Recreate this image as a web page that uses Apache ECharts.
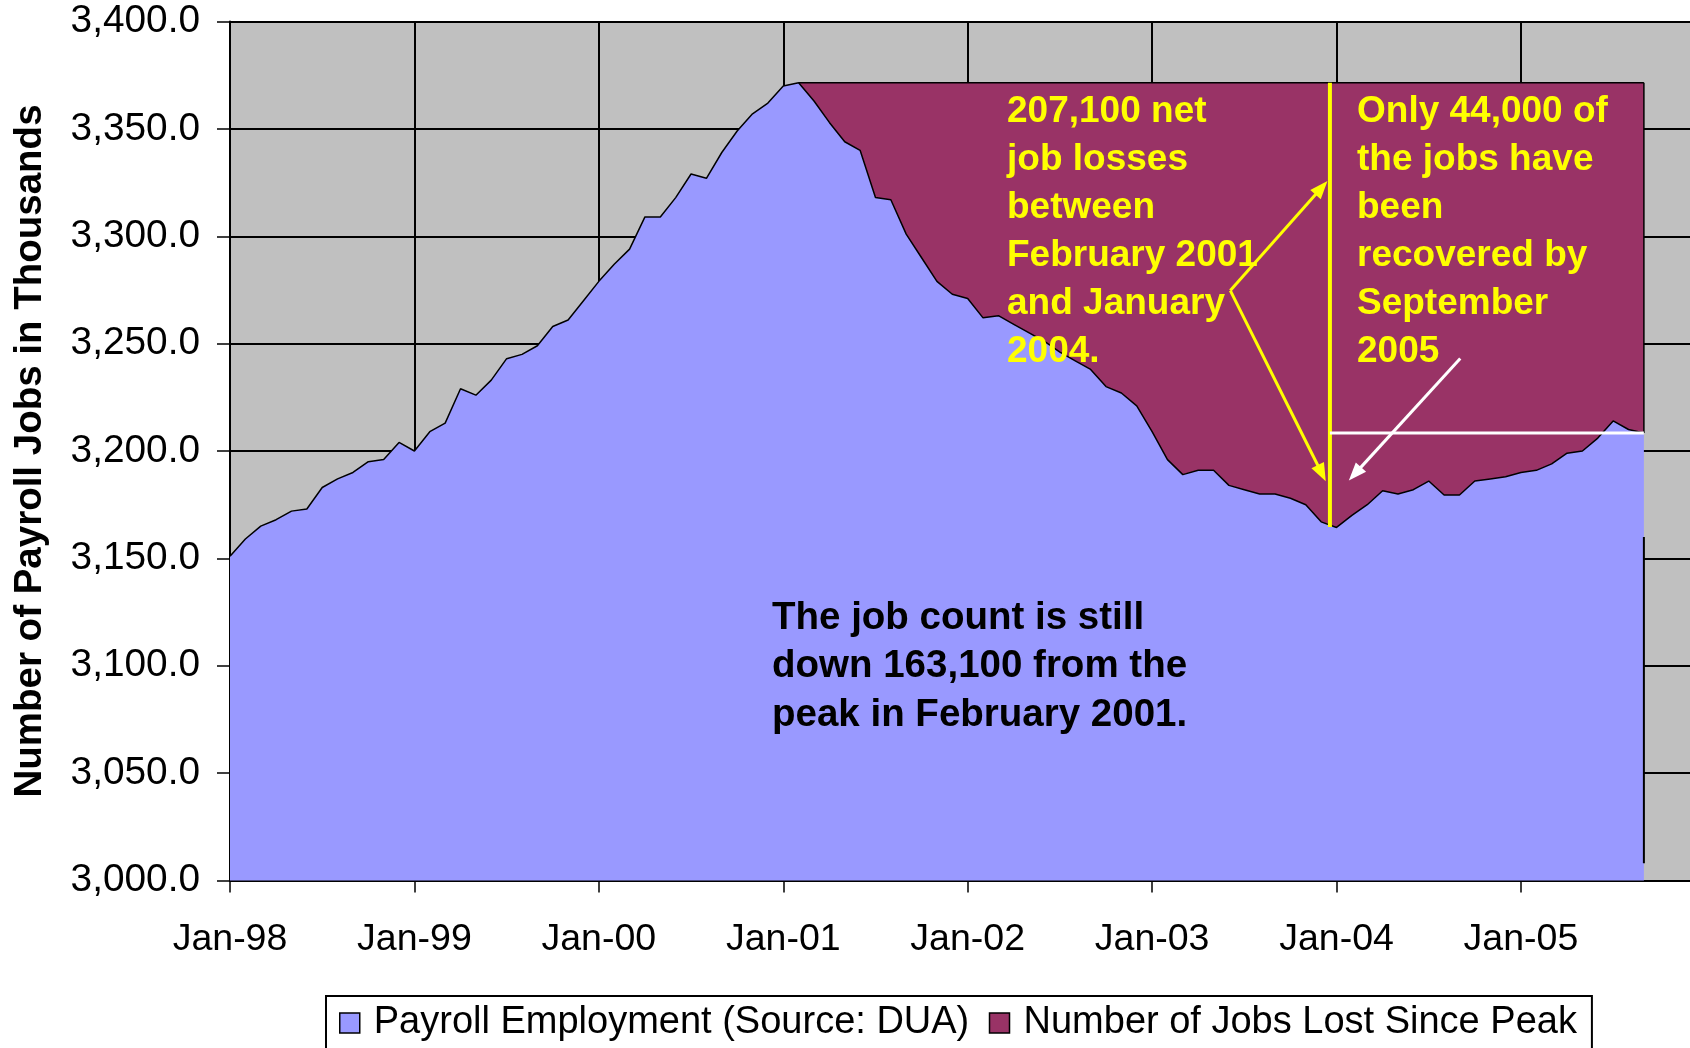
<!DOCTYPE html>
<html>
<head>
<meta charset="utf-8">
<script src="https://cdn.jsdelivr.net/npm/echarts@6/dist/echarts.min.js"></script>
<style>
html,body{margin:0;padding:0;background:#ffffff;}
#chart{width:1690px;height:1048px;}
</style>
</head>
<body>
<div id="chart"></div>
<script>
// ---------- DATA ----------
const monthNames = ['Jan','Feb','Mar','Apr','May','Jun','Jul','Aug','Sep','Oct','Nov','Dec'];
const yearSuffixes = ['98','99','00','01','02','03','04','05'];
const categories = [];
yearSuffixes.forEach(function (y) { monthNames.forEach(function (m) { categories.push(m + '-' + y); }); });

const xTickLabels = ['Jan-98','Jan-99','Jan-00','Jan-01','Jan-02','Jan-03','Jan-04','Jan-05'];

// Payroll employment, thousands, Jan-98 .. Sep-05
const payroll = [
  3151, 3159, 3165, 3168, 3172, 3173, 3183, 3187, 3190, 3195, 3196, 3204,       // 1998
  3200, 3209, 3213, 3229, 3226, 3233, 3243, 3245, 3249, 3258, 3261, 3270,       // 1999
  3279, 3287, 3294, 3309, 3309, 3318, 3329, 3327, 3339, 3349, 3357, 3362,       // 2000
  3370, 3371.5, 3363, 3353, 3344, 3340, 3318, 3317, 3301, 3290, 3279, 3273,     // 2001
  3271, 3262, 3263, 3259, 3255, 3251, 3246, 3242, 3238, 3230, 3227, 3221,       // 2002
  3209, 3196, 3189, 3191, 3191, 3184, 3182, 3180, 3180, 3178, 3175, 3167,       // 2003
  3164.4, 3170, 3175, 3181.5, 3180, 3182, 3186, 3179.5, 3179.5, 3186, 3187, 3188, // 2004
  3190, 3191, 3194, 3199, 3200, 3206, 3214, 3210, 3208.4                         // 2005
];

// Number of jobs lost since the Feb-2001 peak (thousands), Feb-01 .. Sep-05
const jobsLostValues = [
  0, 8.5, 18.5, 27.5, 31.5, 53.5, 54.5, 70.5, 81.5, 92.5, 98.5,                 // Feb-Dec 2001
  100.5, 109.5, 108.5, 112.5, 116.5, 120.5, 125.5, 129.5, 133.5, 141.5, 144.5, 150.5, // 2002
  162.5, 175.5, 182.5, 180.5, 180.5, 187.5, 189.5, 191.5, 191.5, 193.5, 196.5, 204.5, // 2003
  207.1, 201.5, 196.5, 190, 191.5, 189.5, 185.5, 192, 192, 185.5, 184.5, 183.5, // 2004
  181.5, 180.5, 177.5, 172.5, 171.5, 165.5, 157.5, 161.5, 163.1                 // 2005
];
const jobsLost = new Array(37).fill(null).concat(jobsLostValues);

const seriesNames = ['Payroll Employment (Source: DUA)', 'Number of Jobs Lost Since Peak'];
const yAxisTitle = 'Number of Payroll Jobs in Thousands';
const noteLosses = ['207,100 net', 'job losses', 'between', 'February 2001', 'and January', '2004.'];
const noteRecovered = ['Only 44,000 of', 'the jobs have', 'been', 'recovered by', 'September', '2005'];
const noteStillDown = ['The job count is still', 'down 163,100 from the', 'peak in February 2001.'];

// ---------- CHART ----------
const FONT = '"Liberation Sans", Arial, Helvetica, sans-serif';
const chart = echarts.init(document.getElementById('chart'), null, { renderer: 'canvas' });

const option = {
  animation: false,
  backgroundColor: '#ffffff',
  grid: {
    left: 230, right: 0, top: 21.5, height: 859,
    show: true, backgroundColor: '#C0C0C0', borderWidth: 0
  },
  xAxis: {
    type: 'category',
    data: categories,
    boundaryGap: false,
    axisLine: { show: true, onZero: false, lineStyle: { color: '#000', width: 2 } },
    axisTick: { show: true, interval: 11, length: 12, lineStyle: { color: '#000', width: 1.5 } },
    axisLabel: {
      interval: 11, margin: 40, color: '#000', fontSize: 37.5, fontFamily: FONT,
      formatter: function (v) { return xTickLabels.indexOf(v) >= 0 ? v : ''; }
    },
    splitLine: { show: true, interval: 11, lineStyle: { color: '#000', width: 2 } }
  },
  yAxis: {
    type: 'value', min: 3000, max: 3400, interval: 50,
    name: yAxisTitle, nameLocation: 'middle', nameRotate: 90, nameGap: 180,
    nameTextStyle: { fontFamily: FONT, fontWeight: 'bold', fontSize: 38.5, color: '#000' },
    axisLine: { show: true, lineStyle: { color: '#000', width: 2 } },
    axisTick: { show: true, length: 13, lineStyle: { color: '#000', width: 1.5 } },
    axisLabel: {
      margin: 30, color: '#000', fontSize: 38.8, fontFamily: FONT,
      formatter: function (v) { return v.toLocaleString('en-US', { minimumFractionDigits: 1, maximumFractionDigits: 1 }); }
    },
    splitLine: { show: true, lineStyle: { color: '#000', width: 2 } }
  },
  legend: {
    left: 326, top: 996,
    orient: 'horizontal',
    backgroundColor: '#ffffff', borderColor: '#000', borderWidth: 2,
    padding: [8, 15, 40, 13],
    itemWidth: 20, itemHeight: 20, itemGap: 19.5,
    icon: 'rect',
    itemStyle: { borderColor: '#000', borderWidth: 1.5 },
    lineStyle: { width: 0 },
    textStyle: { fontFamily: FONT, fontSize: 38, color: '#000', padding: [0, 0, 0, 9] },
    data: seriesNames
  },
  series: [
    {
      name: seriesNames[0], type: 'line', stack: 'jobs', data: payroll,
      symbol: 'none', z: 3,
      lineStyle: { color: '#000', width: 1.5 },
      itemStyle: { color: '#9999FF' },
      areaStyle: { color: '#9999FF', opacity: 1 }
    },
    {
      name: seriesNames[1], type: 'line', stack: 'jobs', data: jobsLost,
      symbol: 'none', z: 2,
      lineStyle: { color: '#000', width: 1.5 },
      itemStyle: { color: '#993366' },
      areaStyle: { color: '#993366', opacity: 1 }
    }
  ]
};
chart.setOption(option);

// ---------- ANNOTATIONS (anchored in data space) ----------
function P(m, v) {
  const i = Math.floor(m), f = m - i;
  const a = chart.convertToPixel({ gridIndex: 0 }, [i, v]);
  const b = chart.convertToPixel({ gridIndex: 0 }, [i + 1, v]);
  return [a[0] + (b[0] - a[0]) * f, a[1]];
}
function line(p1, p2, color, w) {
  return { type: 'line', z: 100, shape: { x1: p1[0], y1: p1[1], x2: p2[0], y2: p2[1] },
           style: { stroke: color, lineWidth: w } };
}
function arrow(p1, p2, color, w, L, W) {
  const dx = p2[0] - p1[0], dy = p2[1] - p1[1];
  const len = Math.sqrt(dx * dx + dy * dy);
  const ux = dx / len, uy = dy / len, nx = -uy, ny = ux;
  const base = [p2[0] - ux * L, p2[1] - uy * L];
  const end = [p2[0] - ux * L * 0.7, p2[1] - uy * L * 0.7];
  return [
    line(p1, end, color, w),
    { type: 'polygon', z: 100, shape: { points: [p2, [base[0] + nx * W, base[1] + ny * W], [base[0] - nx * W, base[1] - ny * W]] },
      style: { fill: color } }
  ];
}
function textBlock(x, y, lines, color, lh, size) {
  return { type: 'text', z: 101, x: x, y: y,
           style: { text: lines.join('\n'), fill: color, font: 'bold ' + size + 'px ' + FONT,
                    lineHeight: lh, align: 'left', verticalAlign: 'top' } };
}

const peak = 3371.5, trough = 3164.4, latest = 3208.4;
const markM = 71.57;
const els = [];
els.push(line(P(92, peak), P(92, latest), '#000', 1.5));
els.push(line(P(92, 3160), P(92, 3008), '#000', 2));
els.push(line(P(markM, peak), P(markM, 3164.6), '#FFFF00', 4));
els.push(line(P(markM, latest), P(92, latest), '#FFFFFF', 3));
const vertex = P(65.09, 3274.7);
arrow(vertex, P(71.41, 3325.7), '#FFFF00', 3, 18, 7).forEach(function (e) { els.push(e); });
arrow(vertex, P(71.3, 3185.9), '#FFFF00', 3, 18, 7).forEach(function (e) { els.push(e); });
arrow(P(80.05, 3243.1), P(72.8, 3186.3), '#FFFFFF', 3, 18, 7).forEach(function (e) { els.push(e); });
els.push(textBlock(1007, 88, noteLosses, '#FFFF00', 48, 37));
els.push(textBlock(1357, 88, noteRecovered, '#FFFF00', 48, 37));
els.push(textBlock(772, 594, noteStillDown, '#000000', 48.5, 38.5));

chart.setOption({ graphic: els });
</script>
</body>
</html>
